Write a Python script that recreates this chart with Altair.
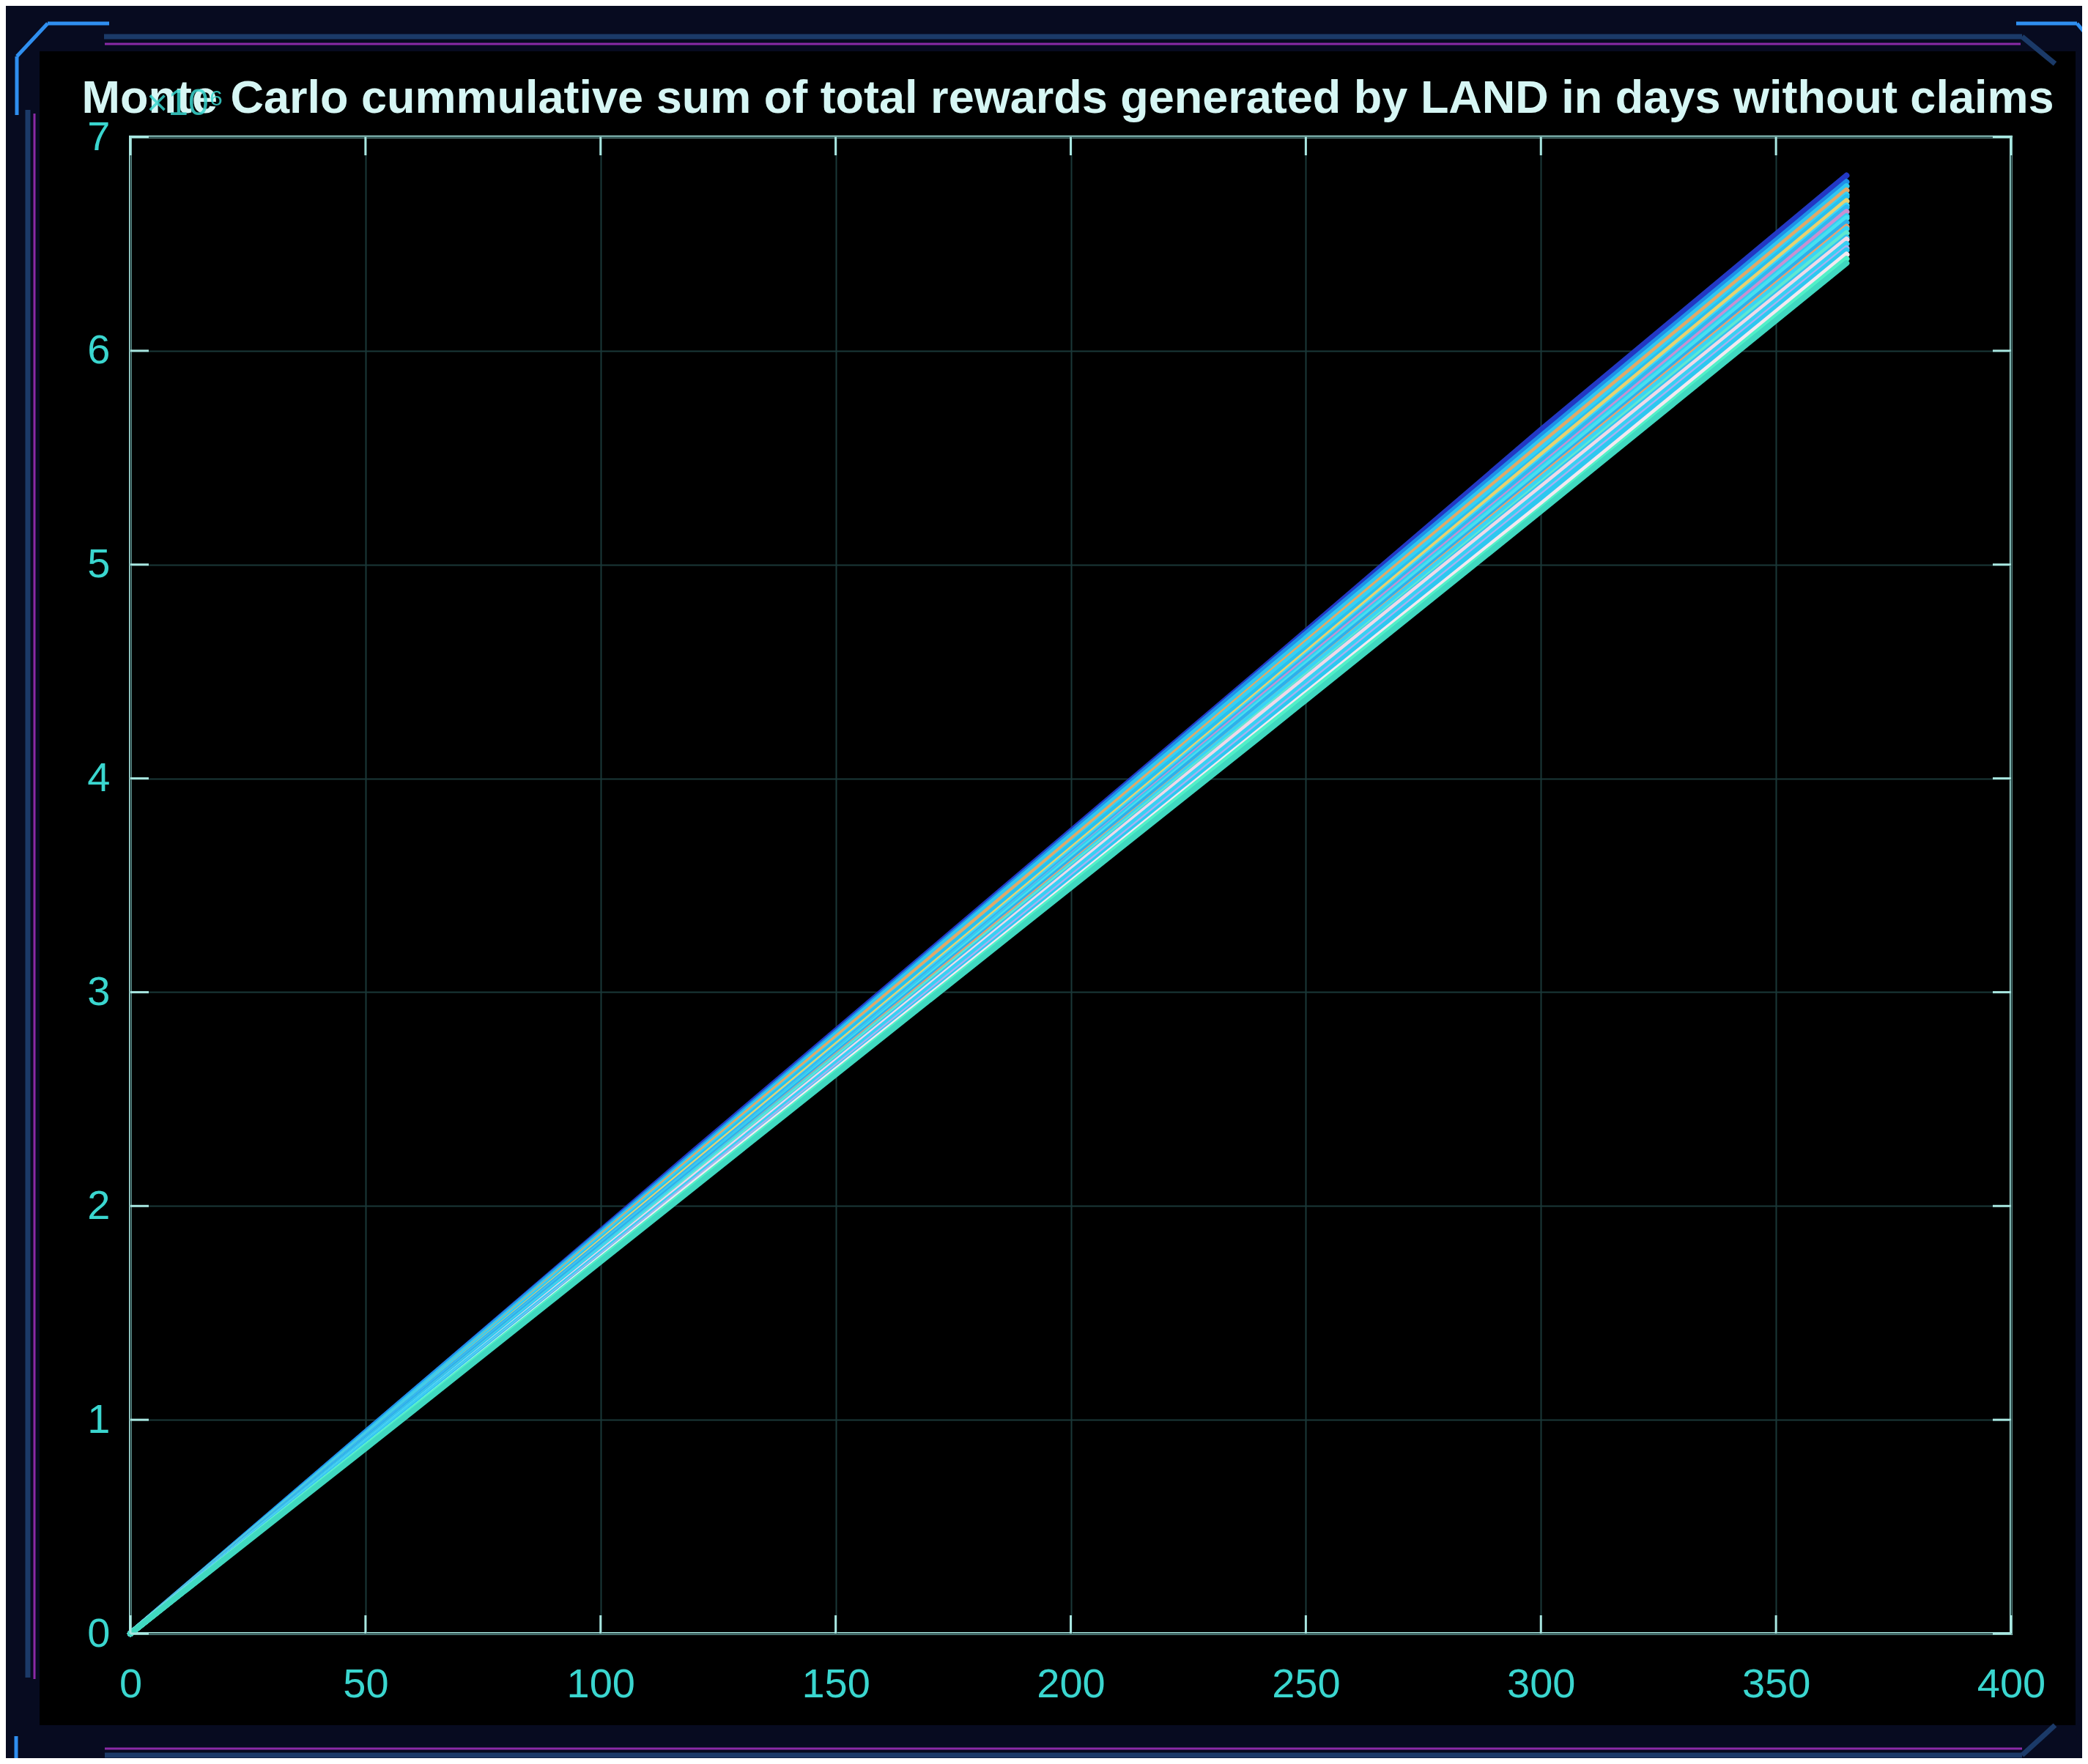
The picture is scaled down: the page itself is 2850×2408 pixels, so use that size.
import altair as alt
import pandas as pd

# ---------------- data ----------------
days = [0, 60, 120, 180, 240, 300, 365]

# cumulative rewards (x10^6) for each Monte Carlo run, top of band to bottom
runs = [
    [0, 1.13, 2.26, 3.38, 4.50, 5.63, 6.82],
    [0, 1.13, 2.25, 3.37, 4.49, 5.60, 6.79],
    [0, 1.12, 2.24, 3.36, 4.47, 5.58, 6.77],
    [0, 1.11, 2.23, 3.34, 4.45, 5.56, 6.75],
    [0, 1.11, 2.22, 3.32, 4.44, 5.54, 6.73],
    [0, 1.10, 2.21, 3.32, 4.42, 5.52, 6.72],
    [0, 1.10, 2.20, 3.30, 4.40, 5.51, 6.70],
    [0, 1.09, 2.19, 3.29, 4.39, 5.49, 6.68],
    [0, 1.10, 2.19, 3.28, 4.38, 5.48, 6.67],
    [0, 1.09, 2.18, 3.27, 4.37, 5.46, 6.65],
    [0, 1.09, 2.18, 3.27, 4.36, 5.45, 6.63],
    [0, 1.08, 2.17, 3.26, 4.35, 5.44, 6.62],
    [0, 1.09, 2.17, 3.25, 4.34, 5.42, 6.60],
    [0, 1.08, 2.16, 3.24, 4.32, 5.41, 6.58],
    [0, 1.08, 2.16, 3.23, 4.32, 5.40, 6.57],
    [0, 1.07, 2.15, 3.23, 4.30, 5.38, 6.55],
    [0, 1.08, 2.14, 3.22, 4.29, 5.37, 6.53],
    [0, 1.07, 2.14, 3.21, 4.29, 5.36, 6.52],
    [0, 1.07, 2.13, 3.20, 4.27, 5.34, 6.50],
    [0, 1.06, 2.12, 3.18, 4.25, 5.32, 6.48],
    [0, 1.06, 2.11, 3.17, 4.24, 5.31, 6.47],
    [0, 1.05, 2.11, 3.16, 4.22, 5.28, 6.45],
    [0, 1.05, 2.10, 3.15, 4.21, 5.26, 6.43],
    [0, 1.04, 2.09, 3.14, 4.19, 5.25, 6.41],
]

x_ticks = [0, 50, 100, 150, 200, 250, 300, 350, 400]
y_ticks = [0, 1, 2, 3, 4, 5, 6, 7]

title_text = "Monte Carlo cummulative sum of total rewards generated by LAND in days without claims"
exponent_text = "\u00d710\u2076"

# ---------------- styles ----------------
run_colors = [
    "#2238c4", "#1e90e8", "#30c8f0", "#e0a868", "#38d0f4", "#28c0ee",
    "#e8d070", "#40d8f8", "#30b8f0", "#c890d0", "#34ccf2", "#48e0f0",
    "#2cb0ec", "#e8a070", "#38d4f6", "#60e8d0", "#30c4f0", "#f0d8e8",
    "#38d0f4", "#a8b0f0", "#2cc8f0", "#f4e8f0", "#50f0c8", "#40d8c0",
]

W, H = 2567, 2043
PAD_L, PAD_T, PAD_R, PAD_B = 170, 179, 97, 170
TICK_LEN = 25

NAVY = "#070b20"
FRAME_BLUE = "#1b3a68"
FRAME_PURPLE = "#8a2aa6"
ACCENT = "#2f8ff0"
LABEL = "#3ad6cf"
AXIS_LINE = "#a8e6e0"
GRID = "#1a3838"
FONT = "Liberation Sans"

# ---------------- build table ----------------
names = [f"run {i + 1}" for i in range(len(runs))]
rows = []
for name, vals in zip(names, runs):
    for d, v in zip(days, vals):
        rows.append({"run": name, "day": d, "value": v})
df = pd.DataFrame(rows)

xs = alt.Scale(domain=[0, 400], nice=False, zero=False)
ys = alt.Scale(domain=[0, 7], nice=False, zero=False)

axis_common = dict(
    labelFontSize=56,
    labelColor=LABEL,
    labelFont=FONT,
    labelFlush=False,
    labelOverlap=False,
    ticks=False,
    domain=False,
    grid=True,
    gridColor=GRID,
    gridWidth=2,
    title=None,
    format="d",
)
x_axis = alt.Axis(values=x_ticks, labelPadding=42, **axis_common)
y_axis = alt.Axis(values=y_ticks, labelPadding=28, **axis_common)

one = pd.DataFrame({"k": [0]})


def rect(x, x2, y, y2, color):
    return alt.Chart(one).mark_rect(color=color, strokeWidth=0).encode(
        x=alt.value(x), x2=alt.value(x2), y=alt.value(y), y2=alt.value(y2)
    )


def seg(x, x2, y, y2, color, w):
    return alt.Chart(one).mark_rule(color=color, strokeWidth=w).encode(
        x=alt.value(x), x2=alt.value(x2), y=alt.value(y), y2=alt.value(y2)
    )


# outer navy bands (the black area comes from the chart background)
bands = [
    rect(-180, W + 110, -180, -117, NAVY),
    rect(-180, W + 110, H + 125, H + 175, NAVY),
    rect(-180, -124, -180, H + 175, NAVY),
    rect(W + 88, W + 110, -180, H + 175, NAVY),
]
frame = [
    seg(-36, W + 15, -137, -137, FRAME_BLUE, 7),
    seg(-35, W + 13, -127, -127, FRAME_PURPLE, 3),
    seg(-140, -140, -37, H + 60, FRAME_BLUE, 7),
    seg(-131, -131, -32, H + 62, FRAME_PURPLE, 3),
    seg(-35, W + 15, H + 157, H + 157, FRAME_PURPLE, 3),
    seg(-35, W + 15, H + 166, H + 166, FRAME_BLUE, 7),
    seg(W + 15, W + 60, -137, -100, FRAME_BLUE, 7),
    seg(W + 15, W + 60, H + 166, H + 125, FRAME_BLUE, 7),
    # bright corner accents
    seg(-155, -155, -110, -30, ACCENT, 5),
    seg(-155, -113, -110, -155, ACCENT, 5),
    seg(-113, -29, -155, -155, ACCENT, 5),
    seg(W + 7, W + 90, -155, -155, ACCENT, 5),
    seg(W + 90, W + 105, -155, -137, ACCENT, 5),
    seg(-156, -156, H + 140, H + 170, ACCENT, 5),
    seg(-156, -113, H + 175, H + 221, ACCENT, 5),
    seg(W + 70, W + 105, H + 221, H + 180, ACCENT, 5),
]

# inward ticks on all four sides
xt = pd.DataFrame({"t": x_ticks})
yt = pd.DataFrame({"t": y_ticks})
tick_layers = [
    alt.Chart(xt).mark_rule(color=AXIS_LINE, strokeWidth=3).encode(
        x=alt.X("t:Q", scale=xs, axis=x_axis), y=alt.value(H), y2=alt.value(H - TICK_LEN)
    ),
    alt.Chart(xt).mark_rule(color=AXIS_LINE, strokeWidth=3).encode(
        x=alt.X("t:Q", scale=xs, axis=x_axis), y=alt.value(0), y2=alt.value(TICK_LEN)
    ),
    alt.Chart(yt).mark_rule(color=AXIS_LINE, strokeWidth=3).encode(
        y=alt.Y("t:Q", scale=ys, axis=y_axis), x=alt.value(0), x2=alt.value(TICK_LEN)
    ),
    alt.Chart(yt).mark_rule(color=AXIS_LINE, strokeWidth=3).encode(
        y=alt.Y("t:Q", scale=ys, axis=y_axis), x=alt.value(W), x2=alt.value(W - TICK_LEN)
    ),
]

lines = alt.Chart(df).mark_line(strokeWidth=8, strokeCap="round").encode(
    x=alt.X("day:Q", scale=xs, axis=x_axis),
    y=alt.Y("value:Q", scale=ys, axis=y_axis),
    color=alt.Color(
        "run:N",
        scale=alt.Scale(domain=names, range=run_colors),
        legend=None,
    ),
    order=alt.Order("day:Q"),
    detail="run:N",
)

title = alt.Chart(one).mark_text(
    text=title_text, fontSize=63, fontWeight="bold", font=FONT, color="#d6f6f4",
    align="center", baseline="alphabetic",
).encode(x=alt.value(W / 2 - 4), y=alt.value(-33))

exponent = alt.Chart(one).mark_text(
    text=exponent_text, fontSize=50, font=FONT, color=LABEL, align="left",
    baseline="alphabetic", opacity=0.85,
).encode(x=alt.value(22), y=alt.value(-30))

chart = alt.layer(
    lines, *tick_layers, *bands, *frame, title, exponent
).properties(
    width=W,
    height=H,
    background="#000000",
    padding={"left": PAD_L, "top": PAD_T, "right": PAD_R, "bottom": PAD_B},
    autosize=alt.AutoSizeParams(type="none"),
).configure_view(
    stroke=AXIS_LINE, strokeWidth=4
)

chart.save("out.html", embed_options={"renderer": "svg", "actions": False})
